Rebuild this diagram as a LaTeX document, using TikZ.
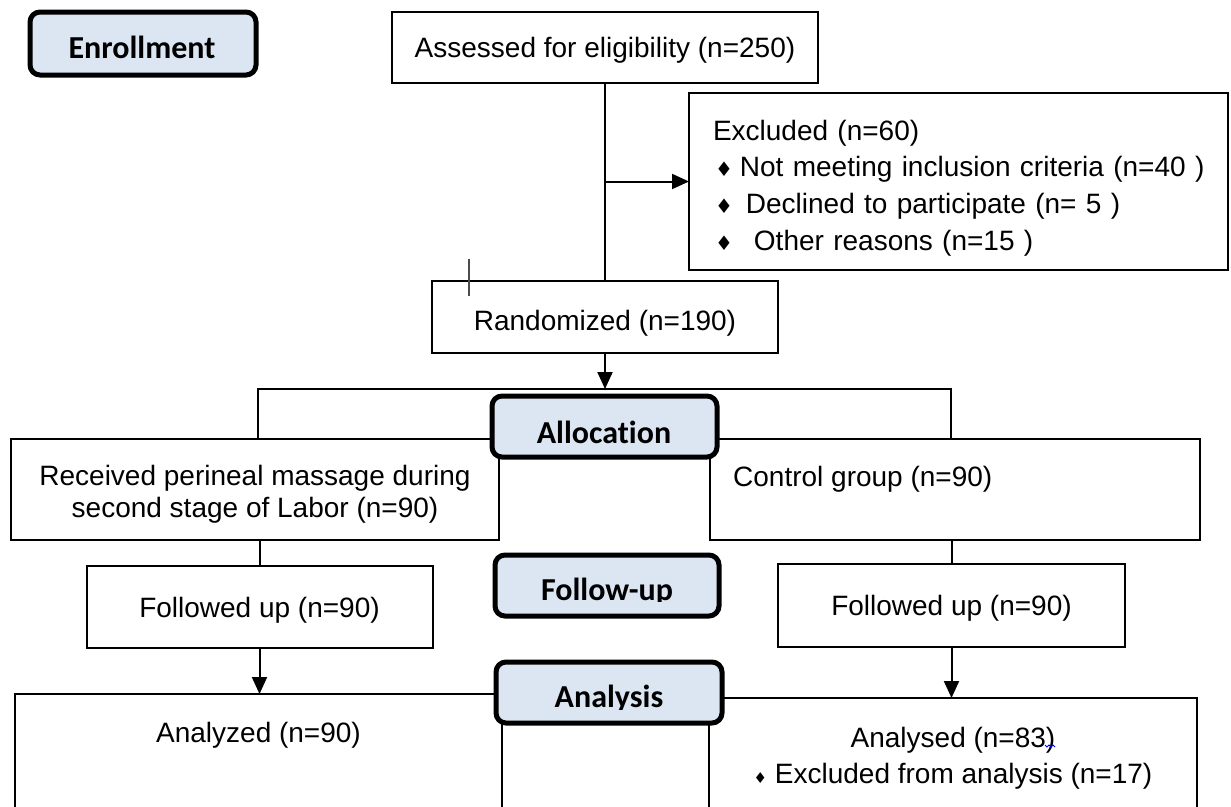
\documentclass[tikz,border=0pt]{standalone}
\usepackage{fontspec}
\setmainfont{Liberation Sans}
\newfontfamily\labfont{Carlito}[Ligatures=NoCommon]
\newfontfamily\symfont{DejaVu Sans}
\usetikzlibrary{arrows.meta}
\definecolor{labfill}{RGB}{220,230,242}
\newcommand{\dmd}[1]{{\symfont\fontsize{#1}{#1}\selectfont ♦}}
\begin{document}
\begin{tikzpicture}[x=1pt,y=-1pt,
  box/.style={draw=black, line width=2pt, fill=white, inner sep=0pt, outer sep=0pt, text depth=0pt, font=\fontsize{28}{32}\selectfont},
  btext/.style={inner sep=0pt, font=\fontsize{28}{32}\selectfont},
  labbox/.style={draw=black, line width=5pt, fill=labfill, rounded corners=10pt, inner sep=0pt, outer sep=0pt},
  labtext/.style={font=\labfont\bfseries\fontsize{32}{32}\selectfont, anchor=base, inner sep=0pt},
  conn/.style={line width=2pt},
  arr/.style={line width=2pt, -{Triangle[width=15pt,length=17pt]}}
]
\useasboundingbox (0,0) rectangle (1231,806);
\clip (0,0) rectangle (1231,806);
\fill[white] (0,0) rectangle (1231,806);

% Enrollment
\node[labbox, minimum width=226pt, minimum height=63pt] (enroll) at (143,43.5) {};
\node[labtext] (enrollT) at (142,58) {Enrollment};

\node[box, minimum width=426pt, minimum height=71pt] (assess) at (605,47.5) {Assessed for eligibility (n=250)};

\node[box, minimum width=539pt, minimum height=177pt] (excl) at (958.5,181.5) {};
\node[btext, align=left, text width=505pt, font=\fontsize{28}{36.7}\selectfont] (exclT) at (965.5,188)
 {Excluded (n=60)\\
  \hspace{2pt}\dmd{20}\hspace{7pt}Not meeting inclusion criteria (n=40 )\\
  \hspace{2pt}\dmd{20}\hspace{13pt}Declined to participate (n= 5 )\\
  \hspace{2pt}\dmd{20}\hspace{21pt}Other reasons (n=15 )};

\node[box, minimum width=346pt, minimum height=72pt] (rand) at (605,317) {};
\node[btext, anchor=base] (randT) at (605,330) {Randomized (n=190)};

% Allocation
\node[box, minimum width=488pt, minimum height=101pt] (lgrp) at (255,489.5) {};
\node[btext, align=center] (lgrpT) at (255,494.5)
 {Received perineal massage during\\second stage of Labor (n=90)};
\node[box, minimum width=490pt, minimum height=101pt] (rgrp) at (955,489.5) {};
\node[btext, anchor=base west] (rgrpT) at (733,486) {Control group (n=90)};
\node[labbox, minimum width=225pt, minimum height=61pt] (alloc) at (604.5,426.5) {};
\node[labtext] (allocT) at (604,443) {Allocation};

% Follow-up
\node[box, minimum width=346pt, minimum height=82pt] (lfu) at (259.5,607) {Followed up (n=90)};
\node[box, minimum width=347pt, minimum height=83pt] (rfu) at (951.5,605.5) {Followed up (n=90)};
\node[labbox, minimum width=224pt, minimum height=61pt] (fu) at (607,585.5) {};
\begin{scope}
\clip (495,550) rectangle (719,601.5);
\node[labtext] (fuT) at (607,600) {Follow-up};
\end{scope}

% Analysis
\node[box, minimum width=487pt, minimum height=118pt, align=center, text depth=6pt, font=\fontsize{28}{36}\selectfont] (lan) at (258.5,753)
 {Analyzed (n=90)\\\mbox{}};
\node[box, minimum width=488pt, minimum height=114pt, align=center, font=\fontsize{28}{36}\selectfont] (ran) at (953,755)
 {Analysed (n=83)\\\dmd{15} Excluded from analysis (n=17)};
\node[labbox, minimum width=226pt, minimum height=61pt] (ana) at (609,692.5) {};
\begin{scope}
\clip (496,655) rectangle (722,709);
\node[labtext] (anaT) at (609,707) {Analysis};
\end{scope}

% connectors
\coordinate (sl) at (258,389);
\coordinate (sr) at (951,389);
\draw[conn] (assess.south) -- (rand.north);
\draw[arr] (assess.south |- excl.west) -- (excl.west);
\draw[arr] (rand.south) -- (rand.south |- sl);
\draw[conn] (lgrp.north -| sl) -- (sl) -- (sr) -- (rgrp.north -| sr);
\draw[conn] (lgrp.south -| lfu.north) -- (lfu.north);
\draw[conn] (rgrp.south -| rfu.north) -- (rfu.north);
\draw[arr] (lfu.south) -- (lan.north -| lfu.south);
\draw[arr] (rfu.south) -- (ran.north -| rfu.south);

% stray tick and spell-check mark
\coordinate (tickA) at (469,259);
\coordinate (tickB) at (469,296);
\draw[line width=1.2pt, black!70] (tickA) -- (tickB);
\draw[blue, line width=0.9pt] (1045,745) -- (1047,747) -- (1049,745) -- (1051,747) -- (1053,745) -- (1055,747);
\end{tikzpicture}
\end{document}
